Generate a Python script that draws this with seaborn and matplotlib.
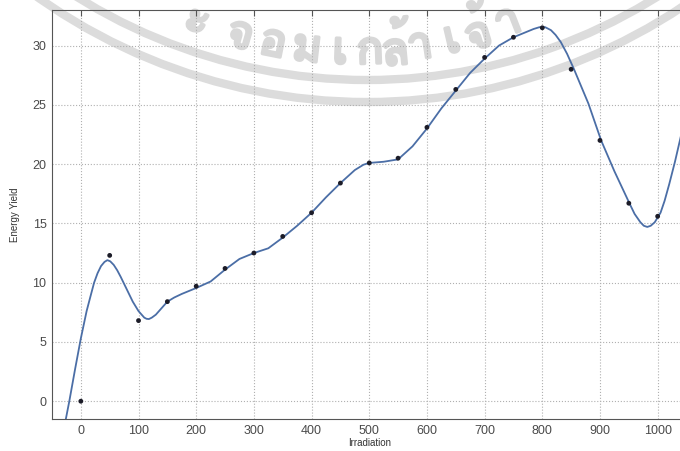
import numpy as np
import pandas as pd
import matplotlib
matplotlib.use("Agg")
import matplotlib.pyplot as plt
import matplotlib.patheffects as pe
import seaborn as sns
from matplotlib import font_manager, ft2font
from matplotlib.patches import Circle

# measured points (dots)
irradiation = [0, 50, 100, 150, 200, 250, 300, 350, 400, 450, 500,
               550, 600, 650, 700, 750, 800, 850, 900, 950, 1000]
energy_yield = [0.0, 12.3, 6.8, 8.4, 9.7, 11.2, 12.5, 13.9, 15.9, 18.4, 20.1,
                20.5, 23.1, 26.3, 29.0, 30.7, 31.5, 28.0, 22.0, 16.7, 15.6]

# fitted curve
fit_x = [-28, -20, -10, 0, 10, 17, 23, 29, 35, 41, 46, 51, 57, 63, 69, 80, 90,
         100, 110, 114, 118, 123, 130, 140, 150, 162, 175, 200, 225, 250, 275,
         300, 325, 350, 375, 400, 425, 450, 475, 490, 500, 525, 550, 575, 600,
         625, 650, 675, 700, 725, 750, 775, 785, 795, 805, 815, 823, 832, 843,
         855, 880, 902, 925, 952, 960, 970, 976, 982, 988, 995, 1005, 1012,
         1020, 1030, 1040, 1050]
fit_y = [-2.0, 0.0, 2.7, 5.3, 7.6, 8.9, 10.0, 10.8, 11.4, 11.75, 11.9, 11.8,
         11.5, 11.05, 10.5, 9.4, 8.4, 7.6, 7.05, 6.95, 6.93, 7.05, 7.3, 7.85,
         8.4, 8.75, 9.05, 9.55, 10.1, 11.1, 12.0, 12.5, 12.9, 13.8, 14.8, 15.9,
         17.2, 18.4, 19.5, 19.95, 20.1, 20.2, 20.4, 21.5, 23.0, 24.7, 26.2,
         27.7, 28.9, 30.0, 30.7, 31.2, 31.4, 31.55, 31.55, 31.3, 30.9, 30.3,
         29.3, 28.0, 25.1, 22.0, 19.4, 16.6, 15.8, 15.1, 14.8, 14.7, 14.8, 15.1,
         15.9, 16.9, 18.3, 20.2, 22.3, 24.6]

x_ticks = [0, 100, 200, 300, 400, 500, 600, 700, 800, 900, 1000]
y_ticks = [0, 5, 10, 15, 20, 25, 30]

# watermark letters and their x position (pixels)
wm_letters = ["ะ", "จ", "อ", "ม", "เ", "ก", "ล้", "า", "เ", "จ้", "า"]
wm_pos = [197, 240, 273, 307, 340, 370, 395, 420, 452, 478, 508]


def thai_font():
    for f in font_manager.fontManager.ttflist:
        try:
            if 0x0E08 in ft2font.FT2Font(f.fname).get_charmap():
                return f.name
        except Exception:
            pass
    return None


sns.set_style("white")
plt.rcParams['font.family'] = ['Liberation Sans', 'DejaVu Sans']

fig = plt.figure(figsize=(6.8, 4.51), dpi=100)

# watermark layer in pixel coordinates
wm = fig.add_axes([0, 0, 1, 1], zorder=0)
wm.set_xlim(0, 680)
wm.set_ylim(451, 0)
wm.axis("off")
for r in (548, 570):
    wm.add_patch(Circle((367, -468), r, fill=False, lw=6, ec="#dcdcdc"))
tf = thai_font()
if tf:
    for ch, xp in zip(wm_letters, wm_pos):
        phi = np.arcsin((xp - 355) / 420)
        wm.text(355 + 420 * np.sin(phi), -368 + 420 * np.cos(phi), ch,
                rotation=np.degrees(phi), ha="center", va="center",
                fontsize=32, color="#d8d8d8", family=[tf, 'DejaVu Sans'],
                path_effects=[pe.withStroke(linewidth=2.5, foreground="#d8d8d8")])

ax = fig.add_axes([52 / 680, 32 / 451, 634.5 / 680, 409 / 451], zorder=1)
ax.set_facecolor("none")

curve = pd.DataFrame({"x": fit_x, "y": fit_y})
pts = pd.DataFrame({"x": irradiation, "y": energy_yield})
sns.lineplot(data=curve, x="x", y="y", sort=False, color="#4b6ea6", lw=1.3, ax=ax)
sns.scatterplot(data=pts, x="x", y="y", color="#1c1c28", s=12, edgecolor="none",
                zorder=3, ax=ax)

ax.set_xlim(-50, 1050)
ax.set_ylim(-1.5, 33)
ax.set_xticks(x_ticks)
ax.set_yticks(y_ticks)
ax.grid(True, linestyle=":", color="#b0b0b0", lw=0.8)
ax.tick_params(direction="in", top=True, right=True, length=4, width=0.8,
               color="#555555", labelcolor="#4a4a4a", labelsize=9, pad=4)
for s in ax.spines.values():
    s.set_color("#555555")
    s.set_linewidth(0.8)
ax.set_xlabel("Irradiation", fontsize=7, color="#333333", labelpad=1)
ax.set_ylabel("Energy Yield", fontsize=7, color="#333333", labelpad=9)

fig.savefig("out.png", dpi=100)
